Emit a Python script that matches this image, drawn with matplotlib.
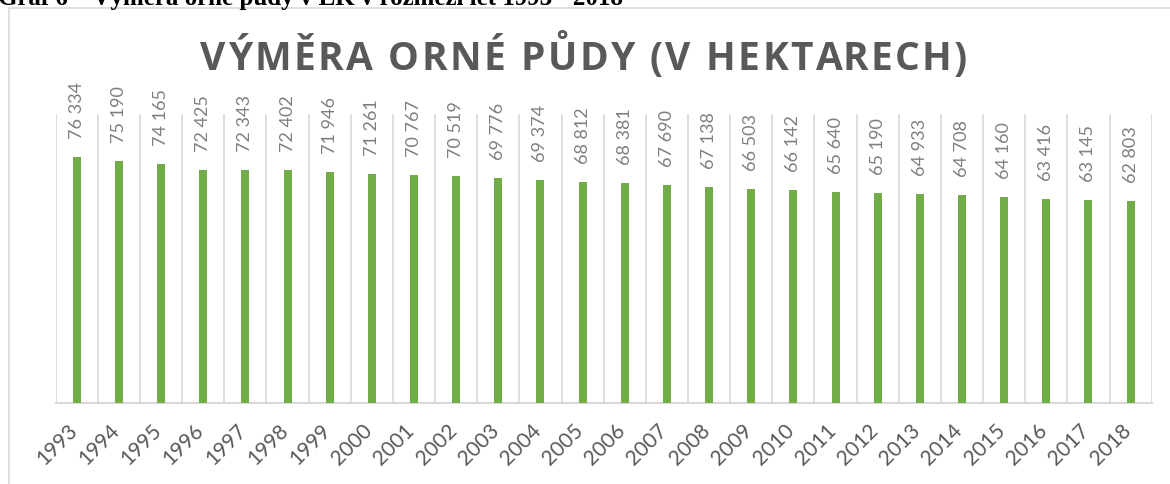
import matplotlib
matplotlib.use("Agg")
import matplotlib.pyplot as plt
from matplotlib.patches import Rectangle
from matplotlib.transforms import ScaledTranslation

years = [str(y) for y in range(1993, 2019)]
values = [76334, 75190, 74165, 72425, 72343, 72402, 71946, 71261, 70767, 70519,
          69776, 69374, 68812, 68381, 67690, 67138, 66503, 66142, 65640, 65190,
          64933, 64708, 64160, 63416, 63145, 62803]
title = "VÝMĚRA ORNÉ PŮDY (V HEKTARECH)"
caption = "Graf 6 – Výměra orné půdy v LK v rozmezí let 1993 - 2018"

W, H = 1170, 484
fig = plt.figure(figsize=(W / 100, H / 100), dpi=100)
fig.patch.set_facecolor("white")

# chart border (extends beyond right/bottom edge)
fig.patches.append(Rectangle((8.5 / W, -0.2), 1.2, (H - 8.0) / H + 0.2,
                             transform=fig.transFigure, fill=False,
                             edgecolor="#d9d9d9", linewidth=1.2))

ax = fig.add_axes([55.7 / W, 1 - 402.7 / H, (1151.7 - 55.7) / W, (402.7 - 113.5) / H])
x = list(range(len(years)))
ax.bar(x, values, width=0.19, color="#70AD47", zorder=3)
ax.set_xlim(-0.5, len(years) - 0.5)
ax.set_ylim(0, 90000)

for s in ["top", "right", "left"]:
    ax.spines[s].set_visible(False)
ax.spines["bottom"].set_color("#d9d9d9")
ax.spines["bottom"].set_linewidth(1.5)
ax.set_yticks([])
ax.set_xticks(x)
ax.set_xticks([i - 0.5 for i in range(len(years) + 1)], minor=True)
ax.grid(which="minor", axis="x", color="#d9d9d9", linewidth=1.2, zorder=0)
ax.tick_params(axis="x", which="both", length=0)
ax.set_xticklabels(years, rotation=45, ha="right", va="center",
                   rotation_mode="anchor", fontsize=15, color="#595959",
                   family="Lato")
ax.tick_params(axis="x", pad=18)
shift = ScaledTranslation(-2.5 / 100, 0, fig.dpi_scale_trans)
for lab in ax.get_xticklabels():
    lab.set_transform(lab.get_transform() + shift)

for xi, v in zip(x, values):
    lbl = f"{v:,}".replace(",", " ")
    ax.annotate(lbl, (xi, v), xytext=(0, 18), textcoords="offset pixels",
                rotation=90, ha="center", va="bottom", fontsize=13,
                color="#7f7f7f", family="Lato")

# letter-spaced title
renderer = fig.canvas.get_renderer()
tprops = dict(fontsize=28, fontweight="bold", color="#595959", family="Open Sans")
spacing = 2.5  # px between letters
probe = fig.text(0, 0, "|", **tprops)
w_bar = probe.get_window_extent(renderer).width
offsets = []
for i in range(len(title)):
    probe.set_text(title[:i] + "|")
    offsets.append(probe.get_window_extent(renderer).width - w_bar + i * spacing)
probe.set_text(title + "|")
total = probe.get_window_extent(renderer).width - w_bar + (len(title) - 1) * spacing
probe.remove()
cx = 583.5
x0 = cx - total / 2
for ch, off in zip(title, offsets):
    if ch == " ":
        continue
    fig.text((x0 + off) / W, 1 - 70 / H, ch, ha="left", va="baseline", **tprops)

fig.text(-2 / W, 1 - 5 / H, caption, ha="left", va="baseline", fontsize=18,
         fontweight="bold", color="black", family="Liberation Serif")

fig.savefig("out.png", dpi=100, facecolor="white")
